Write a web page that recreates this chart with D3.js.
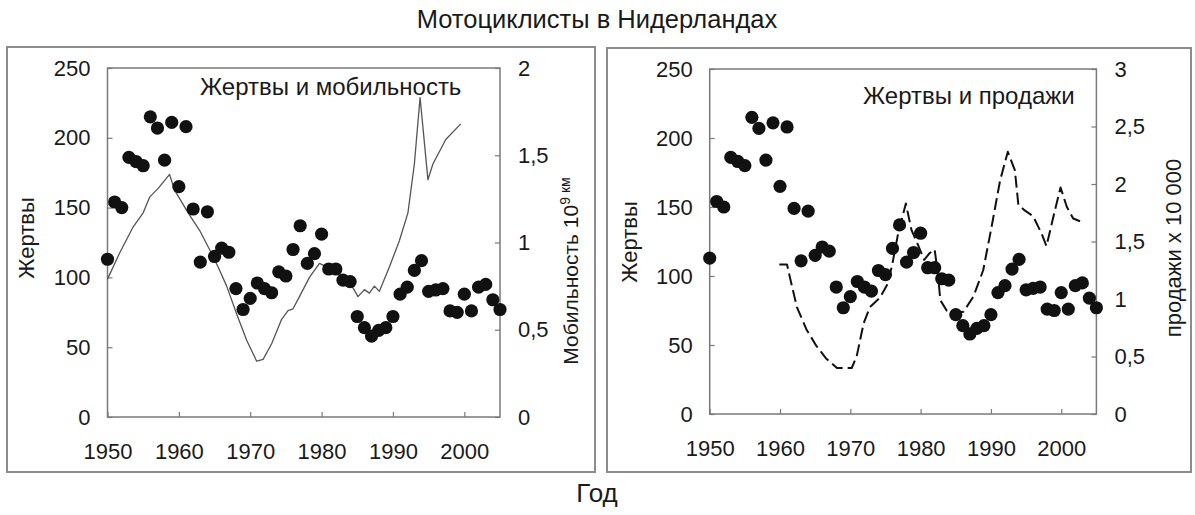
<!DOCTYPE html>
<html>
<head>
<meta charset="utf-8">
<script src="https://cdn.jsdelivr.net/npm/d3@7"></script>
<style>
  html, body { margin: 0; padding: 0; background: #fff; }
  svg { display: block; font-family: "Liberation Sans", Arial, sans-serif; }
  text { fill: #1a1a1a; }
</style>
</head>
<body>
<svg id="chart" width="1195" height="515"></svg>
<script>
// Motorcyclist fatalities per year, 1950–2005
const years = [1950,1951,1952,1953,1954,1955,1956,1957,1958,1959,
               1960,1961,1962,1963,1964,1965,1966,1967,1968,1969,
               1970,1971,1972,1973,1974,1975,1976,1977,1978,1979,
               1980,1981,1982,1983,1984,1985,1986,1987,1988,1989,
               1990,1991,1992,1993,1994,1995,1996,1997,1998,1999,
               2000,2001,2002,2003,2004,2005];
const deaths = [113,154,150,186,183,180,215,207,184,211,
                165,208,149,111,147,115,121,118,92,77,
                85,96,92,89,104,101,120,137,110,117,
                131,106,106,98,97,72,64,58,62,64,
                72,88,93,105,112,90,91,92,76,75,
                88,76,93,95,84,77];

// Motorcycle mobility, 10^9 km
const mobYears  = [1950,1951.7,1953.6,1955,1955.9,1957.1,1958.7,1959.4,1961.3,1962.9,
                   1964.3,1965.5,1966.7,1968.1,1969.5,1970.9,1971.8,1973,1974.4,1975.3,
                   1976,1976.9,1978.3,1979.7,1980.7,1982.5,1983.7,1985.1,1986,1986.7,
                   1987.4,1988.1,1989.5,1990.9,1992.1,1993,1993.8,1994.9,1995.6,1997.4,1999.5];
const mobValues = [0.79,0.94,1.09,1.17,1.26,1.31,1.39,1.30,1.17,1.07,
                   0.96,0.86,0.75,0.59,0.44,0.32,0.33,0.42,0.56,0.61,
                   0.62,0.69,0.80,0.88,0.86,0.82,0.79,0.69,0.73,0.71,
                   0.75,0.72,0.86,1.01,1.17,1.45,1.83,1.36,1.45,1.59,1.68];

// Motorcycle sales, x 10 000
const salesYears  = [1959.9,1961,1961.4,1962.4,1963.8,1965.2,1966.6,1968.1,1969,1970.2,
                     1970.9,1971.9,1972.8,1974.2,1975.2,1975.9,1976.8,1977.9,1978.7,1979.7,
                     1980.5,1981.3,1982,1982.5,1982.8,1983.7,1984.9,1986.1,1987.5,1988.9,
                     1990.1,1991.3,1992.4,1993.4,1993.9,1994.8,1996,1997.2,1997.9,1998.9,
                     1999.9,2000.8,2001.7,2002.9];
const salesValues = [1.30,1.30,1.19,0.93,0.73,0.59,0.48,0.40,0.40,0.40,
                     0.50,0.79,0.93,1.01,1.12,1.28,1.57,1.83,1.60,1.46,
                     1.34,1.40,1.43,1.19,0.99,0.90,0.88,0.89,1.02,1.25,
                     1.63,2.03,2.28,2.12,1.82,1.77,1.72,1.57,1.46,1.72,
                     1.97,1.80,1.70,1.67];

const xTicks = [1950,1960,1970,1980,1990,2000];
const deathTicks = [0,50,100,150,200,250];
const mobTicks = [0,0.5,1,1.5,2];
const salesTicks = [0,0.5,1,1.5,2,2.5,3];

const mainTitle = "Мотоциклисты в Нидерландах";
const xTitle = "Год";

const svg = d3.select("#chart");
const axisColor = "#7a7a7a";
const commaFmt = d => String(d).replace(".", ",");

svg.append("text").attr("x", 597).attr("y", 28).attr("text-anchor", "middle")
  .style("font-size", "25.5px").text(mainTitle);
svg.append("text").attr("x", 597).attr("y", 502).attr("text-anchor", "middle")
  .style("font-size", "26px").text(xTitle);

function panel(opts) {
  // outer frame
  svg.append("rect").attr("x", opts.frame[0]).attr("y", opts.frame[1])
    .attr("width", opts.frame[2]).attr("height", opts.frame[3])
    .attr("fill", "none").attr("stroke", "#8c8c8c").attr("stroke-width", 2);

  const [x0, x1, yTop, yBot] = opts.area;
  const x = d3.scaleLinear().domain([1950, 2005]).range([x0, x1]);
  const y = d3.scaleLinear().domain([0, 250]).range([yBot, yTop]);
  const y2 = d3.scaleLinear().domain([0, opts.rightMax]).range([yBot, yTop]);

  const g = svg.append("g");

  // plot box
  g.append("rect").attr("x", x0).attr("y", yTop).attr("width", x1 - x0).attr("height", yBot - yTop)
    .attr("fill", "none").attr("stroke", axisColor).attr("stroke-width", 1.5);

  const styleAxis = sel => {
    sel.select(".domain").remove();
    sel.selectAll(".tick line").attr("stroke", axisColor).attr("stroke-width", 1.2);
    sel.selectAll(".tick text").style("font-size", "22px").attr("fill", "#1a1a1a");
  };

  g.append("g").attr("transform", `translate(0,${yBot})`)
    .call(d3.axisBottom(x).tickValues(xTicks).tickFormat(d3.format("d")).tickSize(-5).tickPadding(26))
    .call(styleAxis);
  g.append("g").attr("transform", `translate(${x0},0)`)
    .call(d3.axisLeft(y).tickValues(deathTicks).tickSize(-5).tickPadding(17))
    .call(styleAxis);
  g.append("g").attr("transform", `translate(${x1},0)`)
    .call(d3.axisRight(y2).tickValues(opts.rightTicks).tickFormat(commaFmt).tickSize(-5).tickPadding(18))
    .call(styleAxis);

  // secondary series line
  const pts = opts.lineX.map((v, i) => [v, opts.lineY[i]]);
  g.append("path").datum(pts)
    .attr("d", d3.line().x(d => x(d[0])).y(d => y2(d[1])))
    .attr("fill", "none")
    .attr("stroke", opts.lineColor).attr("stroke-width", opts.lineWidth)
    .attr("stroke-dasharray", opts.dash || null)
    .attr("stroke-linejoin", "round");

  // fatalities
  g.append("g").selectAll("circle").data(years).join("circle")
    .attr("cx", (d) => x(d)).attr("cy", (d, i) => y(deaths[i]))
    .attr("r", 6.6).attr("fill", "#111");

  // inner title
  g.append("text").attr("x", opts.titlePos[0]).attr("y", opts.titlePos[1])
    .style("font-size", "24px").text(opts.title);

  // axis titles
  g.append("text").attr("transform", `translate(${opts.leftTitlePos[0]},${opts.leftTitlePos[1]}) rotate(-90)`)
    .attr("text-anchor", "middle").style("font-size", "22px").text("Жертвы");

  const rt = g.append("text").attr("transform", `translate(${opts.rightTitlePos[0]},${opts.rightTitlePos[1]}) rotate(-90)`)
    .attr("text-anchor", "middle").style("font-size", opts.rightTitleSize);
  opts.rightTitle(rt);
}

panel({
  frame: [7, 47, 588, 425],
  area: [107.5, 500, 68, 417],
  rightMax: 2, rightTicks: mobTicks,
  lineX: mobYears, lineY: mobValues,
  lineColor: "#555", lineWidth: 1.3,
  title: "Жертвы и мобильность", titlePos: [200, 95],
  leftTitlePos: [34, 238],
  rightTitlePos: [578, 271], rightTitleSize: "21px",
  rightTitle: t => {
    t.append("tspan").text("Мобильность 10");
    t.append("tspan").attr("dy", -8).style("font-size", "14px").text("9 км");
  }
});

panel({
  frame: [607, 48, 584, 424],
  area: [709.7, 1096.4, 69, 414],
  rightMax: 3, rightTicks: salesTicks,
  lineX: salesYears, lineY: salesValues,
  lineColor: "#111", lineWidth: 2, dash: "12,5",
  title: "Жертвы и продажи", titlePos: [863, 104],
  leftTitlePos: [637, 242],
  rightTitlePos: [1181, 248], rightTitleSize: "22px",
  rightTitle: t => t.text("продажи x 10 000")
});
</script>
</body>
</html>
